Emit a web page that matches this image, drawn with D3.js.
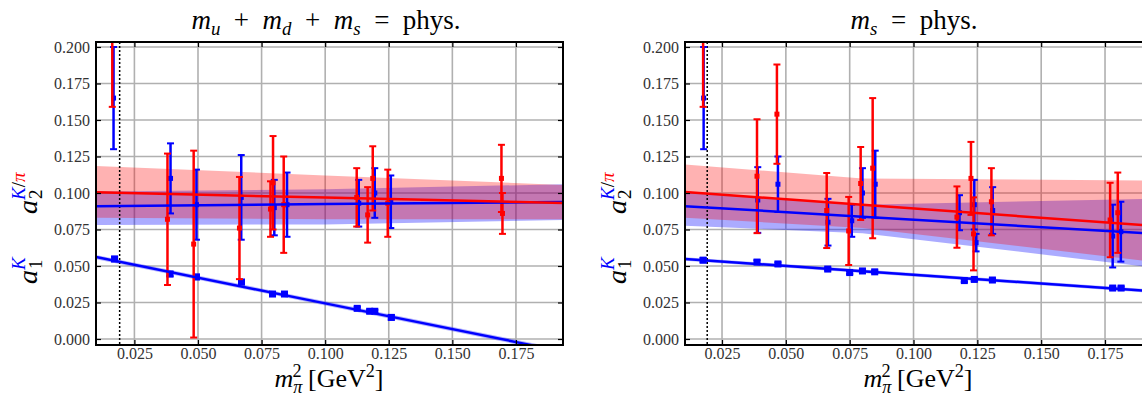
<!DOCTYPE html>
<html>
<head>
<meta charset="utf-8">
<script src="https://cdn.jsdelivr.net/npm/d3@7"></script>
<style>
  body { margin: 0; background: #fff; }
  text { font-family: "Liberation Serif", "DejaVu Serif", serif; }
</style>
</head>
<body>
<svg id="fig" width="1142" height="400"></svg>
<script>
// ticks shared by both panels
const xTicks = [0.025, 0.050, 0.075, 0.100, 0.125, 0.150, 0.175];
const yTicks = [0.000, 0.025, 0.050, 0.075, 0.100, 0.125, 0.150, 0.175, 0.200];
const physPoint = 0.0192;

// left panel: m_u + m_d + m_s = phys.
const sumA1X   = [0.0172, 0.0390, 0.0494, 0.0671, 0.0793, 0.0840, 0.1126, 0.1175, 0.1195, 0.1260];
const sumA1Y   = [0.0548, 0.0445, 0.0425, 0.0390, 0.0308, 0.0308, 0.0210, 0.0190, 0.0190, 0.0148];
const sumA1Err = [0.0015, 0.0015, 0.0015, 0.0015, 0.0010, 0.0010, 0.0010, 0.0010, 0.0010, 0.0015];
const sumKX    = [0.0168, 0.0392, 0.0494, 0.0670, 0.0800, 0.0850, 0.1132, 0.1195, 0.1258];
const sumKY    = [0.165, 0.110, 0.092, 0.097, 0.090, 0.092, 0.093, 0.100, 0.094];
const sumKErr  = [0.035, 0.024, 0.024, 0.029, 0.019, 0.022, 0.016, 0.017, 0.018];
const sumPiX   = [0.0163, 0.0380, 0.0483, 0.0663, 0.0785, 0.0795, 0.0837, 0.1124, 0.1167, 0.1187, 0.1246, 0.1693, 0.1697];
const sumPiY   = [0.230, 0.082, 0.065, 0.076, 0.089, 0.107, 0.092, 0.097, 0.085, 0.110, 0.093, 0.110, 0.086];
const sumPiErr = [0.071, 0.045, 0.064, 0.035, 0.019, 0.032, 0.033, 0.020, 0.019, 0.022, 0.023, 0.023, 0.014];
const sumBandX  = [0.0099, 0.100, 0.1935];
const sumA1Fit  = [0.0561, 0.0244, -0.0086];
const sumA1Lo   = [0.0546, 0.0230, -0.0102];
const sumA1Hi   = [0.0576, 0.0258, -0.0070];
const sumKFit   = [0.0910, 0.0924, 0.0938];
const sumKLo    = [0.0780, 0.0785, 0.0815];
const sumKHi    = [0.1010, 0.1025, 0.1060];
const sumPiFit  = [0.1005, 0.0969, 0.0932];
const sumPiLo   = [0.0830, 0.0820, 0.0820];
const sumPiHi   = [0.1185, 0.1120, 0.1055];

// right panel: m_s = phys.
const msA1X   = [0.0176, 0.0387, 0.0469, 0.0664, 0.0750, 0.0800, 0.0848, 0.1199, 0.1238, 0.1309, 0.1780, 0.1813];
const msA1Y   = [0.0540, 0.0527, 0.0514, 0.0479, 0.0455, 0.0466, 0.0460, 0.0400, 0.0408, 0.0404, 0.0349, 0.0349];
const msA1Err = [0.0015, 0.0012, 0.0010, 0.0010, 0.0010, 0.0010, 0.0010, 0.0010, 0.0010, 0.0010, 0.0010, 0.0010];
const msKX    = [0.0178, 0.0390, 0.0469, 0.0665, 0.0758, 0.0800, 0.0850, 0.1180, 0.1238, 0.1245, 0.1310, 0.1780, 0.1812];
const msKY    = [0.165, 0.0952, 0.106, 0.080, 0.081, 0.100, 0.106, 0.0865, 0.092, 0.066, 0.088, 0.0705, 0.0735];
const msKErr  = [0.035, 0.0225, 0.019, 0.016, 0.011, 0.017, 0.023, 0.012, 0.017, 0.006, 0.016, 0.0215, 0.0205];
const msPiX   = [0.0176, 0.0387, 0.0465, 0.0660, 0.0746, 0.0793, 0.0840, 0.1170, 0.1225, 0.1235, 0.1305, 0.1770, 0.1800];
const msPiY   = [0.230, 0.1115, 0.154, 0.088, 0.074, 0.1065, 0.117, 0.0835, 0.110, 0.072, 0.094, 0.0815, 0.0865];
const msPiErr = [0.071, 0.039, 0.034, 0.0257, 0.0233, 0.025, 0.048, 0.021, 0.025, 0.025, 0.023, 0.0255, 0.0275];
const msBandX  = [0.0105, 0.080, 0.1934];
const msA1Fit  = [0.0548, 0.0464, 0.0327];
const msA1Lo   = [0.0536, 0.0452, 0.0315];
const msA1Hi   = [0.0560, 0.0476, 0.0339];
const msKFit   = [0.0910, 0.0838, 0.0722];
const msKLo    = [0.0775, 0.0725, 0.0490];
const msKHi    = [0.1010, 0.0920, 0.0960];
const msPiFit  = [0.1007, 0.0919, 0.0775];
const msPiLo   = [0.0830, 0.0760, 0.0530];
const msPiHi   = [0.1195, 0.1100, 0.1085];

const BLUE = "#0000ff", RED = "#ff0000";
const plotTop = 42, plotH = 303, plotW = 467;
const SP = "\u2002";

const svg = d3.select("#fig");

// writes math-ish text as tspans, parts: {t, i, sub, sup, fill, dx}
function mathText(sel, parts, size) {
    let shift = 0;
    parts.forEach(p => {
        let want = p.sub ? size * 0.22 : p.sup ? -size * 0.4 : 0;
        let ts = sel.append("tspan")
            .attr("dy", want - shift)
            .style("font-size", (p.sub || p.sup ? size * 0.7 : size) + "px")
            .style("font-style", p.i ? "italic" : "normal")
            .attr("fill", p.fill || "#000")
            .text(p.t);
        if (p.dx) ts.attr("dx", p.dx);
        shift = want;
    });
}

const panels = [
    {
        x0: 96, domain: [0.0099, 0.1935], titleX: 326,
        title: [{t: "m", i: true}, {t: "u", i: true, sub: true}, {t: SP + "+" + SP},
                {t: "m", i: true}, {t: "d", i: true, sub: true}, {t: SP + "+" + SP},
                {t: "m", i: true}, {t: "s", i: true, sub: true}, {t: SP + "=" + SP + "phys."}],
        a1: [sumA1X, sumA1Y, sumA1Err], k: [sumKX, sumKY, sumKErr], pi: [sumPiX, sumPiY, sumPiErr],
        bandX: sumBandX,
        a1Fit: [sumA1Fit, sumA1Lo, sumA1Hi], kFit: [sumKFit, sumKLo, sumKHi], piFit: [sumPiFit, sumPiLo, sumPiHi]
    },
    {
        x0: 685, domain: [0.0105, 0.1934], titleX: 914,
        title: [{t: "m", i: true}, {t: "s", i: true, sub: true}, {t: SP + "=" + SP + "phys."}],
        a1: [msA1X, msA1Y, msA1Err], k: [msKX, msKY, msKErr], pi: [msPiX, msPiY, msPiErr],
        bandX: msBandX,
        a1Fit: [msA1Fit, msA1Lo, msA1Hi], kFit: [msKFit, msKLo, msKHi], piFit: [msPiFit, msPiLo, msPiHi]
    }
];

function drawErrorBars(g, cols, color, x, y, mark) {
    const data = cols[0].map((d, i) => ({x: d, y: cols[1][i], e: cols[2][i]}));
    const pts = g.append("g").selectAll("g").data(data).join("g");
    pts.append("line")
        .attr("x1", d => x(d.x)).attr("x2", d => x(d.x))
        .attr("y1", d => y(d.y - d.e)).attr("y2", d => y(d.y + d.e))
        .attr("stroke", color).attr("stroke-width", 2.5);
    for (const s of [-1, 1]) {
        pts.append("line")
            .attr("x1", d => x(d.x) - 3.5).attr("x2", d => x(d.x) + 3.5)
            .attr("y1", d => y(d.y + s * d.e)).attr("y2", d => y(d.y + s * d.e))
            .attr("stroke", color).attr("stroke-width", 2);
    }
    pts.append("rect")
        .attr("x", d => x(d.x) - mark / 2).attr("y", d => y(d.y) - mark / 2)
        .attr("width", mark).attr("height", mark)
        .attr("fill", color);
}

panels.forEach((p, pi) => {
    const x = d3.scaleLinear().domain(p.domain).range([p.x0, p.x0 + plotW]);
    const y = d3.scaleLinear().domain([-0.00411, 0.20342]).range([plotTop + plotH, plotTop]);
    const g = svg.append("g");

    g.append("clipPath").attr("id", "clip" + pi)
        .append("rect").attr("x", p.x0).attr("y", plotTop).attr("width", plotW).attr("height", plotH);

    // grid
    const grid = g.append("g").attr("stroke", "#b0b0b0").attr("stroke-width", 1.6);
    grid.selectAll(".gx").data(xTicks).join("line")
        .attr("x1", d => x(d)).attr("x2", d => x(d)).attr("y1", plotTop).attr("y2", plotTop + plotH);
    grid.selectAll(".gy").data(yTicks).join("line")
        .attr("x1", p.x0).attr("x2", p.x0 + plotW).attr("y1", d => y(d)).attr("y2", d => y(d));

    const body = g.append("g").attr("clip-path", `url(#clip${pi})`);

    const bandData = f => p.bandX.map((d, i) => ({x: d, v: f[0][i], lo: f[1][i], hi: f[2][i]}));
    const area = d3.area().x(d => x(d.x)).y0(d => y(d.lo)).y1(d => y(d.hi));
    const line = d3.line().x(d => x(d.x)).y(d => y(d.v));

    body.append("path").datum(bandData(p.kFit)).attr("d", area).attr("fill", BLUE).attr("opacity", 0.33);
    body.append("path").datum(bandData(p.piFit)).attr("fill", RED).attr("opacity", 0.3).attr("d", area);
    body.append("path").datum(bandData(p.a1Fit)).attr("d", area).attr("fill", BLUE).attr("opacity", 0.3);

    // physical point
    body.append("line")
        .attr("x1", x(physPoint)).attr("x2", x(physPoint)).attr("y1", plotTop).attr("y2", plotTop + plotH)
        .attr("stroke", "#000").attr("stroke-width", 1.5).attr("stroke-dasharray", "2,2");

    drawErrorBars(body, p.a1, BLUE, x, y, 7);
    drawErrorBars(body, p.k, BLUE, x, y, 5);
    drawErrorBars(body, p.pi, RED, x, y, 5);

    for (const [f, c] of [[p.kFit, BLUE], [p.piFit, RED], [p.a1Fit, BLUE]]) {
        body.append("path").datum(bandData(f)).attr("d", line)
            .attr("fill", "none").attr("stroke", c).attr("stroke-width", 2.5);
    }

    // axes, ticks pointing inward
    const bottom = g.append("g").attr("transform", `translate(0,${plotTop + plotH})`)
        .call(d3.axisBottom(x).tickValues(xTicks).tickFormat(d3.format(".3f")).tickSize(-5).tickPadding(3));
    const left = g.append("g").attr("transform", `translate(${p.x0},0)`)
        .call(d3.axisLeft(y).tickValues(yTicks).tickFormat(d3.format(".3f")).tickSize(-5).tickPadding(6));
    const topAx = g.append("g").attr("transform", `translate(0,${plotTop})`)
        .call(d3.axisTop(x).tickValues(xTicks).tickFormat("").tickSize(-5));
    const rightAx = g.append("g").attr("transform", `translate(${p.x0 + plotW},0)`)
        .call(d3.axisRight(y).tickValues(yTicks).tickFormat("").tickSize(-5));
    for (const a of [bottom, left, topAx, rightAx]) {
        a.select(".domain").remove();
        a.selectAll(".tick line").attr("stroke", "#000").attr("stroke-width", 1.2);
        a.selectAll("text").attr("fill", "#333").style("font-size", "16px")
            .style("font-family", '"Liberation Serif", serif');
    }

    g.append("rect").attr("x", p.x0).attr("y", plotTop).attr("width", plotW).attr("height", plotH)
        .attr("fill", "none").attr("stroke", "#000").attr("stroke-width", 2);

    // title
    mathText(g.append("text").attr("x", p.titleX).attr("y", 29).attr("text-anchor", "middle"), p.title, 27);

    // x label
    mathText(g.append("text").attr("x", p.x0 + 233).attr("y", 387).attr("text-anchor", "middle"), [
        {t: "m", i: true}, {t: "π", i: true, sub: true}, {t: "2", sup: true, dx: -10},
        {t: " [GeV"}, {t: "2", sup: true}, {t: "]"}
    ], 26);

    // y label, rotated, pieces placed along the text direction
    const yl = g.append("g").attr("transform", `translate(${p.x0 - 59},284) rotate(-90)`);
    const piece = (t, lx, ly, size, italic, fill) => yl.append("text")
        .attr("x", lx).attr("y", ly).style("font-size", size + "px")
        .style("font-style", italic ? "italic" : "normal").attr("fill", fill || "#000").text(t);
    piece("a", 0, 0, 28, true);
    piece("1", 15, 5, 19, false);
    piece("K", 14, -12, 19, true, BLUE);
    piece("a", 70, 0, 28, true);
    piece("2", 85, 5, 19, false);
    const sup = piece("", 84, -12, 19, true);
    sup.append("tspan").attr("fill", BLUE).text("K");
    sup.append("tspan").attr("fill", "#000").style("font-style", "normal").text("/");
    sup.append("tspan").attr("fill", RED).text("π");
});
</script>
</body>
</html>
